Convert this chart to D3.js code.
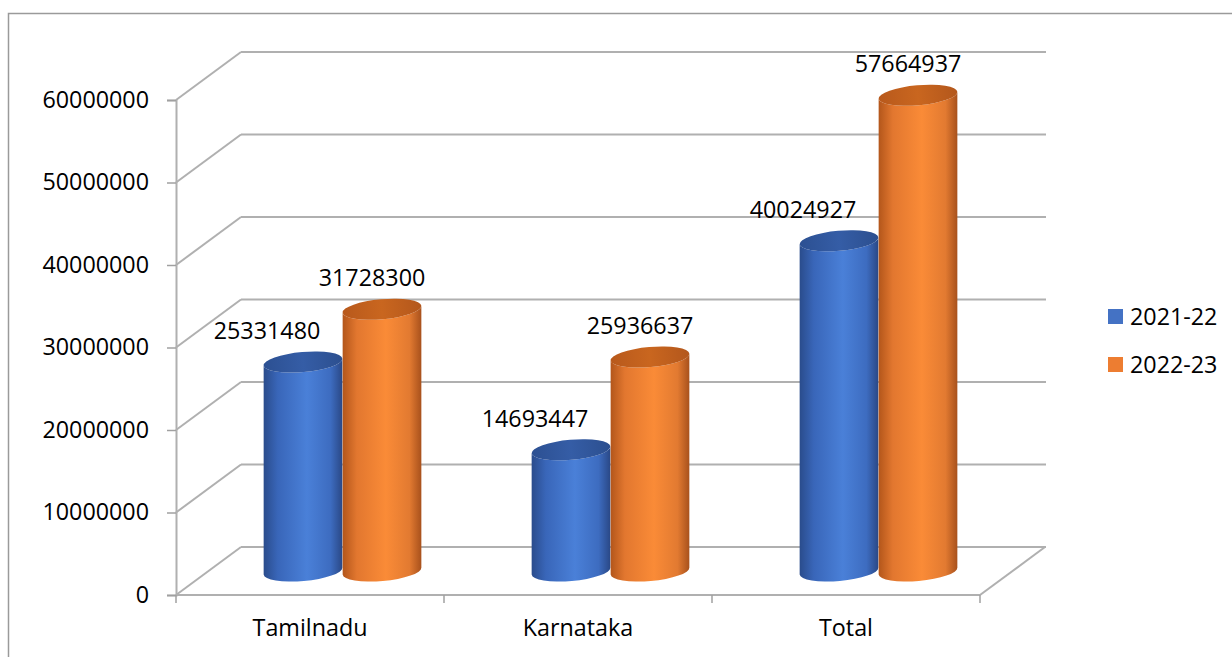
<!DOCTYPE html>
<html>
<head>
<meta charset="utf-8">
<script src="https://cdn.jsdelivr.net/npm/d3@7"></script>
<style>
  body { margin: 0; background: #fff; }
  text { font-family: "Open Sans", sans-serif; fill: #000; }
</style>
</head>
<body>
<div id="chart"></div>
<script>
// data
var categories = ["Tamilnadu", "Karnataka", "Total"];
var seriesNames = ["2021-22", "2022-23"];
var values2122 = [25331480, 14693447, 40024927];
var values2223 = [31728300, 25936637, 57664937];
var yTicks = [0, 10000000, 20000000, 30000000, 40000000, 50000000, 60000000];

var W = 1232, H = 657;
var fontSize = 23.3;

// depth of the 3d box (back wall offset)
var depthX = 65, depthY = -48;

var svg = d3.select("#chart")
  .append("svg")
  .attr("width", W)
  .attr("height", H);

// outer frame
svg.append("rect")
  .attr("x", 8.5).attr("y", 13.5)
  .attr("width", W).attr("height", H)
  .attr("fill", "none")
  .attr("stroke", "#9a9a9a")
  .attr("stroke-width", 1.5);

var x = d3.scaleBand()
  .domain(categories)
  .range([176, 980])
  .padding(0);

var y = d3.scaleLinear()
  .domain([0, 60000000])
  .range([595, 100]);

var x0 = x.range()[0], x1 = x.range()[1];

// gradients for the cylinders
var defs = svg.append("defs");
var palettes = {
  "2021-22": { stops: ["#2a4c8c", "#3966b9", "#4a80d8", "#3d6cc0", "#2a4886"], top: ["#2c5092", "#355da6", "#2c4f8f"], legend: "#4472c4" },
  "2022-23": { stops: ["#b3561b", "#e2772f", "#fa8b37", "#e27a31", "#a8511c"], top: ["#b8591c", "#c9661f", "#b3571c"], legend: "#ed7d31" }
};
seriesNames.forEach(function(s, i) {
  var g = defs.append("linearGradient").attr("id", "body" + i);
  var offs = [0, 0.18, 0.55, 0.85, 1];
  palettes[s].stops.forEach(function(c, j) {
    g.append("stop").attr("offset", offs[j]).attr("stop-color", c);
  });
  var t = defs.append("linearGradient").attr("id", "top" + i);
  palettes[s].top.forEach(function(c, j) {
    t.append("stop").attr("offset", j / 2).attr("stop-color", c);
  });
});

// walls: gridlines on back wall and side wall
var grid = svg.append("g");
yTicks.forEach(function(t) {
  var yy = y(t);
  grid.append("line")
    .attr("x1", x0).attr("y1", yy)
    .attr("x2", x0 + depthX).attr("y2", yy + depthY)
    .attr("stroke", "#b0b0b0").attr("stroke-width", 2);
  grid.append("line")
    .attr("x1", x0 + depthX).attr("y1", yy + depthY)
    .attr("x2", x1 + depthX + 1).attr("y2", yy + depthY)
    .attr("stroke", "#b0b0b0").attr("stroke-width", 2);
});

// floor front and right edge
grid.append("line")
  .attr("x1", x0).attr("y1", y(0))
  .attr("x2", x1).attr("y2", y(0))
  .attr("stroke", "#b0b0b0").attr("stroke-width", 2);
grid.append("line")
  .attr("x1", x1).attr("y1", y(0))
  .attr("x2", x1 + depthX).attr("y2", y(0) + depthY)
  .attr("stroke", "#b0b0b0").attr("stroke-width", 2);

// y axis
var yAxis = svg.append("g")
  .attr("transform", "translate(" + x0 + ",0)")
  .call(d3.axisLeft(y).tickValues(yTicks).tickSize(9).tickPadding(18).tickFormat(d3.format("d")));
yAxis.select(".domain").attr("stroke", "#b0b0b0").attr("stroke-width", 2);
yAxis.selectAll(".tick line").attr("stroke", "#a0a0a0").attr("stroke-width", 1.5);
yAxis.selectAll(".tick text").style("font-size", fontSize + "px").attr("fill", "#000");

// x axis
var xAxis = svg.append("g")
  .attr("transform", "translate(0," + y(0) + ")")
  .call(d3.axisBottom(x).tickSize(0).tickPadding(24));
xAxis.select(".domain").remove();
xAxis.selectAll(".tick text").style("font-size", fontSize + "px").attr("fill", "#000");
// tick marks at band edges
var edges = categories.map(function(c) { return x(c); }).concat([x1]);
xAxis.selectAll(".edge")
  .data(edges)
  .enter().append("line")
  .attr("x1", function(d) { return d; }).attr("x2", function(d) { return d; })
  .attr("y1", 0).attr("y2", 8)
  .attr("stroke", "#a0a0a0").attr("stroke-width", 1.5);

// cylinders, placed at mid depth
var barW = 79, rx = barW / 2, ry = 10, rot = -5;
var rad = rot * Math.PI / 180;
var ex = rx * Math.cos(rad), ey = rx * Math.sin(rad);

var rows = [];
categories.forEach(function(c, i) {
  rows.push({ cat: c, s: 0, v: values2122[i] });
  rows.push({ cat: c, s: 1, v: values2223[i] });
});

function cx(d) {
  return x(d.cat) + x.bandwidth() / 2 + depthX / 2 + (d.s === 0 ? -rx : rx);
}
function cyBase() { return y(0) + depthY / 2; }
function cyTop(d) { return y(d.v) + depthY / 2; }

var bars = svg.append("g").selectAll("g")
  .data(rows)
  .enter().append("g");

bars.append("path")
  .attr("d", function(d) {
    var c = cx(d), b = cyBase(), t = cyTop(d);
    return "M" + (c - ex) + "," + (t - ey) +
      "L" + (c - ex) + "," + (b - ey) +
      "A" + rx + "," + ry + " " + rot + " 0 0 " + (c + ex) + "," + (b + ey) +
      "L" + (c + ex) + "," + (t + ey) +
      "A" + rx + "," + ry + " " + rot + " 0 1 " + (c - ex) + "," + (t - ey) + "Z";
  })
  .attr("fill", function(d) { return "url(#body" + d.s + ")"; });

bars.append("ellipse")
  .attr("cx", 0).attr("cy", 0)
  .attr("rx", rx).attr("ry", ry)
  .attr("transform", function(d) {
    return "translate(" + cx(d) + "," + cyTop(d) + ") rotate(" + rot + ")";
  })
  .attr("fill", function(d) { return "url(#top" + d.s + ")"; });

// data labels
var labelDx = [-36, -10];
svg.append("g").selectAll("text")
  .data(rows)
  .enter().append("text")
  .attr("x", function(d) { return cx(d) + labelDx[d.s]; })
  .attr("y", function(d) { return cyTop(d) - 23; })
  .attr("text-anchor", "middle")
  .style("font-size", fontSize + "px")
  .text(function(d) { return d.v; });

// legend
var legend = svg.append("g").selectAll("g")
  .data(seriesNames)
  .enter().append("g")
  .attr("transform", function(d, i) { return "translate(1108," + (309 + i * 48) + ")"; });
legend.append("rect")
  .attr("width", 15).attr("height", 15)
  .attr("fill", function(d) { return palettes[d].legend; });
legend.append("text")
  .attr("x", 22).attr("y", 7.5)
  .attr("dy", "0.36em")
  .style("font-size", fontSize + "px")
  .text(function(d) { return d; });
</script>
</body>
</html>
